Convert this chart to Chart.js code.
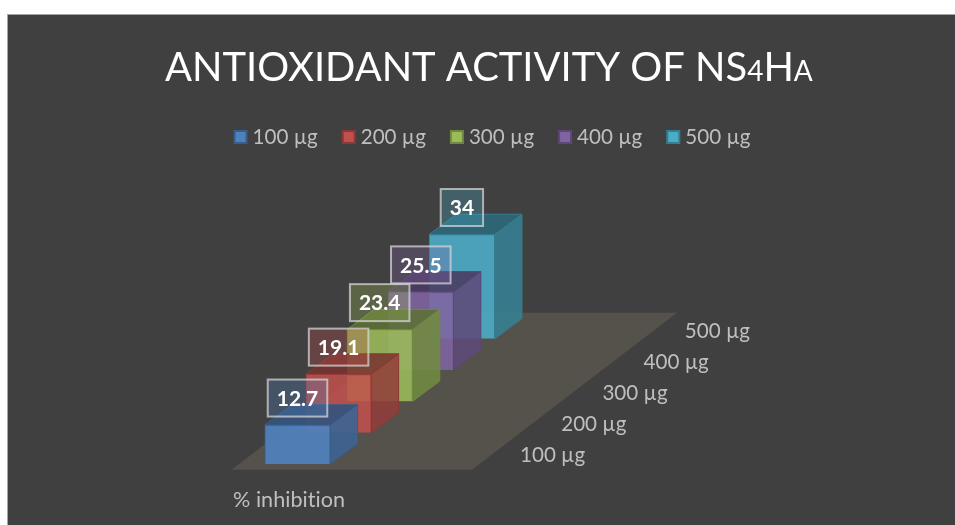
<!DOCTYPE html>
<html>
<head>
<meta charset="utf-8">
<style>
html,body{margin:0;padding:0;background:#fff;overflow:hidden}
#panel{position:absolute;left:7px;top:14px;width:948px;height:511px;background:#404040;border-left:1px solid #a6a6a6;border-top:1px solid #a6a6a6;box-sizing:border-box}
#c{position:absolute;left:0;top:0}
</style>
</head>
<body>
<div id="panel"></div>
<canvas id="c" width="955" height="525"></canvas>
<script src="https://cdn.jsdelivr.net/npm/chart.js@4"></script>
<script>
const titleText = 'ANTIOXIDANT ACTIVITY OF NS4HA';
const smallChars = {26: true, 28: true};
const measureLabel = ['% inhibition'];
const seriesNames = ['100 µg', '200 µg', '300 µg', '400 µg', '500 µg'];
const values = [12.7, 19.1, 23.4, 25.5, 34];
const faceColors = ['rgba(79,129,189,0.92)', 'rgba(192,80,77,0.86)', 'rgba(155,187,89,0.88)', 'rgba(128,100,162,0.88)', 'rgba(75,172,198,0.9)'];
const solidColors = ['#4f81bd', '#c0504d', '#9bbb59', '#8064a2', '#4bacc6'];
const edgeColors = ['#385d8a', '#8c3836', '#71893f', '#5c4776', '#357d91'];
const sideColors = ['rgba(62,100,146,0.92)', 'rgba(146,60,58,0.86)', 'rgba(113,138,64,0.88)', 'rgba(94,74,122,0.88)', 'rgba(54,126,146,0.9)'];
const topColors = ['rgba(52,84,125,0.92)', 'rgba(120,50,48,0.86)', 'rgba(92,112,54,0.88)', 'rgba(74,58,98,0.88)', 'rgba(44,104,122,0.9)'];
const labelFills = ['rgba(79,129,189,0.30)', 'rgba(192,80,77,0.30)', 'rgba(155,187,89,0.30)', 'rgba(128,100,162,0.30)', 'rgba(75,172,198,0.30)'];

// oblique projection of the series (depth) axis
const originDX = -193.65;
const stepX = 41.1, stepY = -31.3;
const depthX = 27.3, depthY = -20.3;
const FONT = 'Lato';

function shift(i) { return { x: originDX + i * stepX, y: i * stepY }; }

const depth3D = {
  id: 'depth3D',
  afterInit(chart) {
    chart.titleBlock.draw = function () {
      const ctx = chart.ctx, big = 39.9, small = 28;
      ctx.save();
      ctx.fillStyle = '#ffffff';
      ctx.textBaseline = 'alphabetic';
      ctx.textAlign = 'left';
      let x = 165;
      let run = '';
      const flush = (size) => {
        if (!run) return;
        ctx.font = size + 'px ' + FONT;
        ctx.fillText(run, x, 81);
        x += ctx.measureText(run).width;
        run = '';
      };
      for (let i = 0; i < titleText.length; i++) {
        if (smallChars[i]) { flush(big); run = titleText[i]; flush(small); }
        else run += titleText[i];
      }
      flush(big);
      ctx.restore();
    };
  },
  beforeDatasetsDraw(chart) {
    const ctx = chart.ctx;
    const y0 = chart.scales.y.getPixelForValue(0);
    const x0 = chart.getDatasetMeta(0).data[0].x + originDX;
    ctx.save();
    ctx.fillStyle = '#55524b';
    ctx.beginPath();
    ctx.moveTo(x0 - 66, y0 + 5.7);
    ctx.lineTo(x0 + 174.5, y0 + 5.7);
    ctx.lineTo(x0 + 379.5, y0 - 151.3);
    ctx.lineTo(x0 + 139.5, y0 - 151.3);
    ctx.closePath();
    ctx.fill();
    ctx.restore();
  },
  beforeDatasetDraw(chart, args) {
    const i = args.index, ctx = chart.ctx, s = shift(i);
    const bar = chart.getDatasetMeta(i).data[0];
    const l = bar.x - bar.width / 2, r = bar.x + bar.width / 2, t = bar.y, b = bar.base;
    ctx.save();
    ctx.translate(s.x, s.y);
    ctx.lineWidth = 1;
    ctx.strokeStyle = edgeColors[i];
    ctx.fillStyle = sideColors[i];
    ctx.beginPath();
    ctx.moveTo(r, t); ctx.lineTo(r + depthX, t + depthY); ctx.lineTo(r + depthX, b + depthY); ctx.lineTo(r, b);
    ctx.closePath(); ctx.fill(); ctx.stroke();
    ctx.fillStyle = topColors[i];
    ctx.beginPath();
    ctx.moveTo(l, t); ctx.lineTo(l + depthX, t + depthY); ctx.lineTo(r + depthX, t + depthY); ctx.lineTo(r, t);
    ctx.closePath(); ctx.fill(); ctx.stroke();
  },
  afterDatasetDraw(chart) {
    chart.ctx.restore();
  },
  afterDatasetsDraw(chart) {
    const ctx = chart.ctx;
    const y0 = chart.scales.y.getPixelForValue(0);
    const cx = chart.getDatasetMeta(0).data[0].x;
    ctx.save();
    // value labels
    values.forEach((v, i) => {
      const s = shift(i);
      const bar = chart.getDatasetMeta(i).data[0];
      const x = bar.x + s.x, y = bar.y + s.y - 27;
      const txt = String(v);
      ctx.font = 'bold 21px ' + FONT;
      const w = ctx.measureText(txt).width + 18, h = 37;
      ctx.fillStyle = labelFills[i];
      ctx.fillRect(x - w / 2, y - h / 2, w, h);
      ctx.strokeStyle = 'rgba(217,217,217,0.72)';
      ctx.lineWidth = 2;
      ctx.strokeRect(x - w / 2, y - h / 2, w, h);
      ctx.fillStyle = '#ffffff';
      ctx.textAlign = 'center';
      ctx.textBaseline = 'middle';
      ctx.fillText(txt, x, y + 1);
    });
    // axis labels
    ctx.font = '20.6px ' + FONT;
    ctx.fillStyle = '#bfbfbf';
    ctx.textAlign = 'left';
    ctx.textBaseline = 'middle';
    seriesNames.forEach((n, i) => {
      ctx.fillText(n, cx + originDX + 222.5 + i * 41.2, y0 - 9 - i * 31);
    });
    ctx.font = '21.6px ' + FONT;
    ctx.letterSpacing = '0.02px';
    ctx.fillText(measureLabel[0], 233, 500);
    ctx.restore();
  },
  afterDraw(chart) {
    // legend swatches: 14 px squares at the slots the legend laid out
    const ctx = chart.ctx;
    ctx.save();
    ctx.lineWidth = 2;
    chart.legend.legendHitBoxes.forEach((hit, i) => {
      const x = hit.left + 2.7, y = hit.top + hit.height / 2 - 6;
      ctx.fillStyle = solidColors[i];
      ctx.strokeStyle = edgeColors[i];
      ctx.fillRect(x, y, 12, 12);
      ctx.strokeRect(x, y, 12, 12);
    });
    ctx.restore();
  }
};

new Chart(document.getElementById('c'), {
  type: 'bar',
  data: {
    labels: measureLabel,
    datasets: seriesNames.map((n, i) => ({
      label: n,
      data: [values[i]],
      backgroundColor: faceColors[i],
      borderColor: edgeColors[i],
      borderWidth: 1,
      barThickness: 65.5,
      grouped: false
    }))
  },
  options: {
    responsive: false,
    animation: false,
    layout: { padding: { left: 27.3, right: 0, top: 0.4, bottom: 61 } },
    scales: {
      x: { display: false, grid: { display: false } },
      y: { display: false, min: 0, max: 100, grid: { display: false } }
    },
    plugins: {
      tooltip: { enabled: false },
      title: {
        display: true,
        text: titleText,
        font: { family: FONT, size: 40, weight: 'normal' },
        padding: { top: 36, bottom: 20 }
      },
      legend: {
        display: true,
        position: 'top',
        labels: {
          color: '#bfbfbf',
          boxWidth: 10.4,
          boxHeight: 10,
          padding: 22.3,
          font: { family: FONT, size: 20.6 },
          generateLabels(chart) {
            return seriesNames.map((n, i) => ({
              text: n,
              fillStyle: 'rgba(0,0,0,0)',
              strokeStyle: 'rgba(0,0,0,0)',
              lineWidth: 0,
              fontColor: '#bfbfbf',
              datasetIndex: i
            }));
          }
        }
      }
    }
  },
  plugins: [depth3D]
});
</script>
</body>
</html>
